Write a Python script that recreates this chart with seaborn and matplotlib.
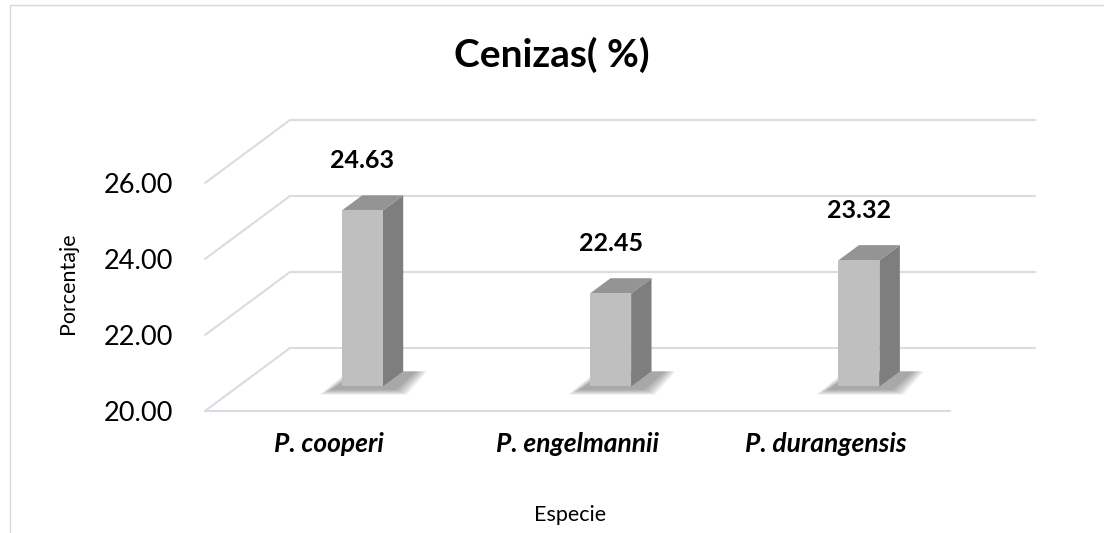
import pandas as pd
import matplotlib
matplotlib.use("Agg")
import matplotlib.pyplot as plt
import seaborn as sns
from matplotlib.patches import Polygon, Rectangle
from matplotlib.lines import Line2D
from matplotlib.transforms import IdentityTransform, ScaledTranslation


especies = ["P. cooperi", "P. engelmannii", "P. durangensis"]
cenizas = [24.63, 22.45, 23.32]
yticks = [20, 22, 24, 26]
base = 20

df = pd.DataFrame({"Especie": especies, "Cenizas": cenizas})

# fake 3d: depth of the floor in pixels, bars sit between f0 and f1 of it
DX, DY = 85, 63
f0, f1 = 0.39, 0.63
grid_col = "#D9DCE3"

sns.set_theme(style="white")
plt.rcParams["font.family"] = ["Lato", "DejaVu Sans"]

fig = plt.figure(figsize=(11.04, 5.33), dpi=100)
ax = fig.add_axes([205 / 1104, 122 / 533, 745 / 1104, 228 / 533])
ax.set_facecolor("none")

sns.barplot(data=df, x="Especie", y="Cenizas", order=especies, color="#BFBFBF",
            width=0.165, saturation=1, ax=ax, zorder=5)
ax.set_xlim(-0.5, 2.5)
ax.set_ylim(base, yticks[-1])

shift = ScaledTranslation(f0 * DX / 100, f0 * DY / 100, fig.dpi_scale_trans)
to_px = ax.transData.transform


def off(pt, f):
    return (pt[0] + f * DX, pt[1] + f * DY)


# walls: back gridlines + left diagonals + front floor edge
for t in yticks:
    a = to_px((-0.5, t))
    b = to_px((2.5, t))
    ax.add_line(Line2D(*zip(off(a, 1), off(b, 1)), transform=IdentityTransform(),
                       color=grid_col, lw=1.5, zorder=1, clip_on=False))
    ax.add_line(Line2D(*zip(a, off(a, 1)), transform=IdentityTransform(),
                       color=grid_col, lw=1.5, zorder=1, clip_on=False))
a = to_px((-0.5, base))
b = to_px((2.5, base))
ax.add_line(Line2D(*zip(a, b), transform=IdentityTransform(),
                   color=grid_col, lw=1.5, zorder=1, clip_on=False))

for p, v in zip(ax.patches, cenizas):
    p.set_y(base)
    p.set_height(v - base)
    p.set_transform(ax.transData + shift)
    p.set_clip_on(False)
    p.set_edgecolor("none")
    x0, x1 = p.get_x(), p.get_x() + p.get_width()
    bl, br, tr, tl = to_px((x0, base)), to_px((x1, base)), to_px((x1, v)), to_px((x0, v))

    # soft floor shadow
    for k in range(8):
        e = 14 - k * 1.6
        pts = [off((bl[0] - e - 8, bl[1] - e * 0.45 - 2), f0),
               off((br[0] + e + 10, br[1] - e * 0.45 - 2), f0),
               off((br[0] + e + 10, br[1]), f1),
               off((bl[0] - e, bl[1]), f1)]
        ax.add_patch(Polygon(pts, closed=True, transform=IdentityTransform(),
                             fc="#404040", ec="none", alpha=0.07, zorder=2, clip_on=False))

    side = [off(br, f0), off(tr, f0), off(tr, f1), off(br, f1)]
    top = [off(tl, f0), off(tr, f0), off(tr, f1), off(tl, f1)]
    ax.add_patch(Polygon(side, closed=True, transform=IdentityTransform(),
                         fc="#7E7E7E", ec="none", zorder=4, clip_on=False))
    ax.add_patch(Polygon(top, closed=True, transform=IdentityTransform(),
                         fc="#949494", ec="none", zorder=4, clip_on=False))

    ax.annotate(f"{v:.2f}", xy=((x0 + x1) / 2, v),
                xytext=(f0 * DX * 0.72, (f0 * DY + 42) * 0.72), textcoords="offset points",
                ha="center", va="baseline", fontsize=18, fontweight="bold", color="black")

ax.set_yticks(yticks)
ax.set_yticklabels([f"{t:.2f}" for t in yticks])
ax.tick_params(axis="y", length=0, pad=23, labelsize=19.5, labelcolor="black")
ax.tick_params(axis="x", length=0, pad=15, labelsize=19, labelcolor="black")
for lab in ax.get_xticklabels():
    lab.set_fontweight("bold")
    lab.set_fontstyle("italic")
sns.despine(ax=ax, left=True, bottom=True)

ax.set_ylabel("Porcentaje", fontsize=15.5, color="black")
ax.yaxis.set_label_coords(78 / 1104, 1 - 283 / 533, transform=fig.transFigure)
ax.set_xlabel("Especie", fontsize=15.5, color="black")
ax.xaxis.set_label_coords(570 / 1104, 1 - 505 / 533, transform=fig.transFigure)

fig.text(0.5, 1 - 67 / 533, "Cenizas( %)", ha="center", va="baseline",
         fontsize=28, fontweight="bold", color="black")

fig.patches.append(Rectangle((10 / 1104, -0.1), 1.2, 1.1 - 5 / 533, transform=fig.transFigure,
                             fill=False, ec="#D9D9D9", lw=1))

fig.savefig("out.png", dpi=100)
